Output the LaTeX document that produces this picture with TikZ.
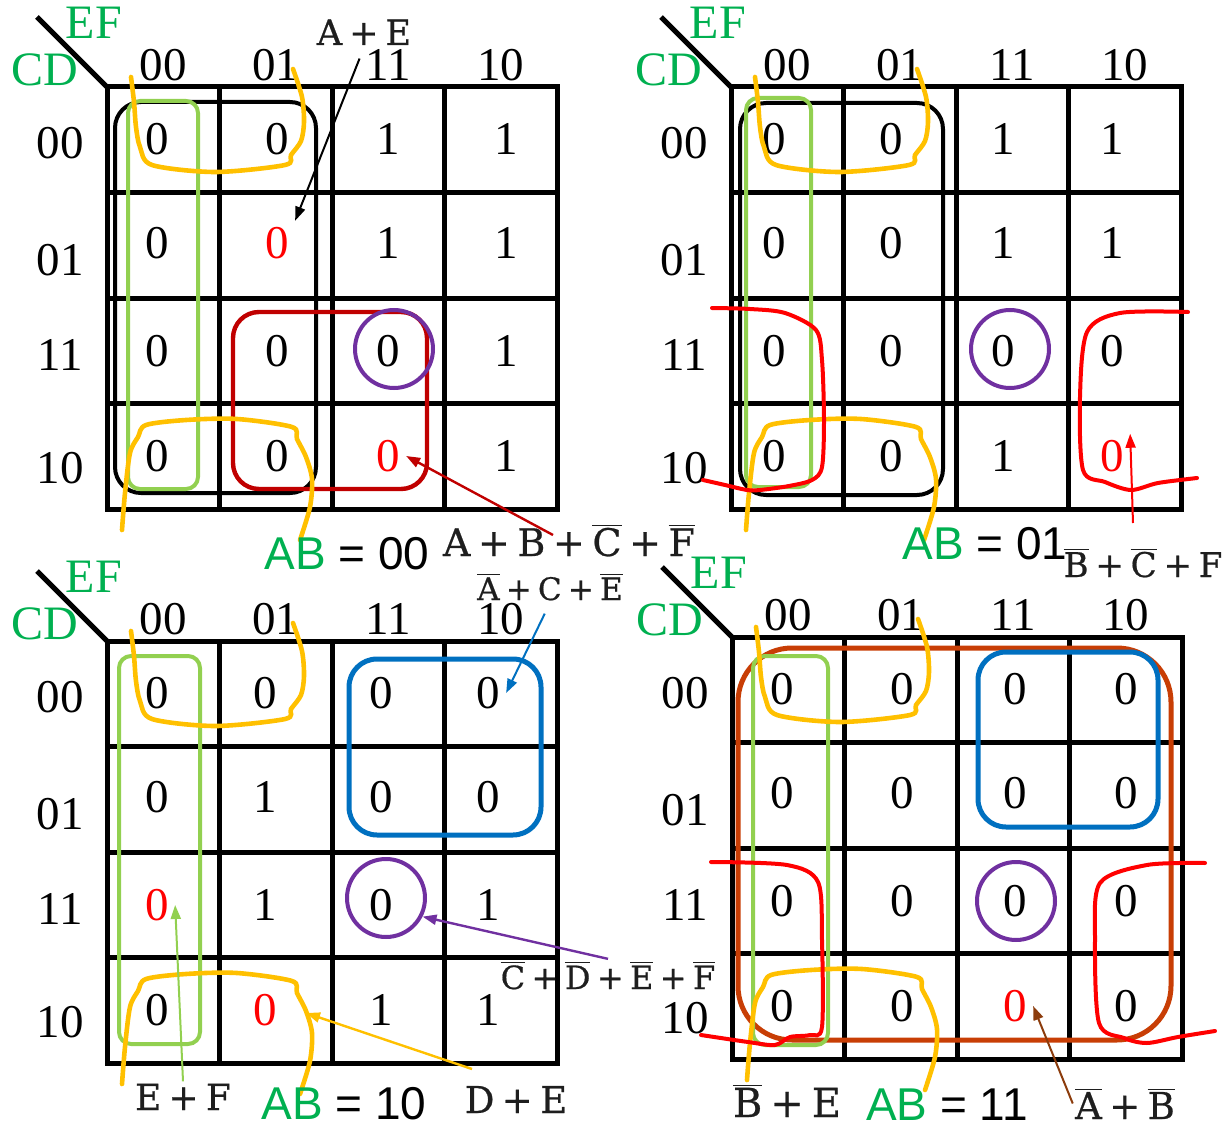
\documentclass[tikz,border=0pt]{standalone}
\usepackage{fontspec}
\setmainfont{Liberation Serif}
\newfontfamily\labsans{Liberation Sans}
\newfontfamily\eqfont[FakeBold=0.6]{DejaVu Serif}
\usetikzlibrary{arrows.meta,calc}
\definecolor{kgreen}{RGB}{0,176,80}
\definecolor{lgreen}{RGB}{146,208,80}
\definecolor{korange}{RGB}{255,192,0}
\definecolor{dred}{RGB}{192,0,0}
\definecolor{kpurple}{RGB}{112,48,160}
\definecolor{kblue}{RGB}{0,112,192}
\definecolor{kred}{RGB}{255,0,0}
\definecolor{kbrown}{RGB}{200,62,5}
\definecolor{karrbrown}{RGB}{140,60,12}
\definecolor{eqgray}{RGB}{30,30,30}
\newcommand{\ov}[1]{$\overline{\mbox{#1}}$}
\newcommand{\pls}{\hspace{0.2em}+\hspace{0.2em}}
\newcommand{\rz}{\textcolor{kred}{0}}
\tikzset{
  grid/.style={line width=2.5pt, line cap=rect},
  diag/.style={line width=2.5pt},
  val/.style={font=\fontsize{23.5}{24}\selectfont, inner sep=3pt},
  hdr/.style={font=\fontsize{23.5}{24}\selectfont, inner sep=0pt},
  axis/.style={font=\fontsize{24}{24}\selectfont, text=kgreen, inner sep=0pt},
  blkloop/.style={draw=black, line width=2pt, rounded corners=13pt},
  grnloop/.style={draw=lgreen, line width=2pt, rounded corners=6pt},
  drloop/.style={draw=dred, line width=2.2pt, rounded corners=13pt},
  blueloop/.style={draw=kblue, line width=2.5pt, rounded corners=14pt},
  brnloop/.style={draw=kbrown, line width=2.5pt, rounded corners=27pt},
  pc/.style={circle, draw=kpurple, line width=2pt, minimum size=39pt, inner sep=0pt},
  orng/.style={draw=korange, line width=2.3pt, line cap=round},
  redc/.style={draw=kred, line width=2pt, line cap=round},
  eq/.style={font=\eqfont\fontsize{#1}{#1}\selectfont, text=eqgray, anchor=base, inner sep=1pt},
  abl/.style={font=\labsans\fontsize{23}{24}\selectfont, anchor=base, inner sep=0pt},
  arr/.style={line width=1pt, -{Triangle[length=7pt,width=5pt]}},
}
\newcommand{\kmap}[6]{%
  \draw[grid] (0,0) rectangle (450,422);
  \foreach \i in {1,2,3}{%
    \draw[grid] ({\i*112.5},0) -- ({\i*112.5},422);
    \draw[grid] (0,{\i*105.5}) -- (450,{\i*105.5});
  }
  \draw[diag] (-70,-70) -- (0,0);
  \node[axis] (#1ef) at (-13,-64) {EF};
  \node[axis] (#1cd) at (-62,-17) {CD};
  \foreach \t/\yy [count=\c] in {00/56,01/173,11/268,10/381}{%
    \node[hdr] (#1h\c) at ({56+112.5*(\c-1)},-22) {\t};
    \node[hdr] (#1r\c) at (-47,\yy) {\t};
  }
  \foreach \vals [count=\r] in {{#3},{#4},{#5},{#6}}{%
    \foreach \v [count=\c] in \vals {%
      \pgfmathsetmacro{\xx}{{#2}[\c-1]}%
      \pgfmathsetmacro{\yy}{{52,156,264,369}[\r-1]}%
      \node[val] (#1-\r-\c) at (\xx,\yy) {\v};
    }
  }
}
\newcommand{\orangetop}{%
  \draw[orng] plot[smooth, tension=0.5] coordinates {(24,-10) (27,15) (29,40) (33,60) (45,78) (108,85) (178,78) (184,68) (194,54) (197,35) (195,10) (186,-18)};
}
\newcommand{\orangebot}{%
  \draw[orng] plot[smooth, tension=0.5] coordinates {(15,443) (18,406) (23,366) (31,350) (39,338) (79,333) (130,332) (185,340) (190,352) (199,370) (205,392) (203,420) (193,453)};
}
\begin{document}
\begin{tikzpicture}[x=0.5pt,y=-0.5pt]
\useasboundingbox (0,0) rectangle (1227,1129);
% ---------- Map 1: AB = 00
\begin{scope}[shift={(107,87)}]
  \kmap{m1}{50,170,281,399}{0,0,1,1}{0,\rz,1,1}{0,0,0,1}{0,0,\rz,1}
  \draw[blkloop] (8,15) rectangle (209,406);
  \draw[grnloop] (21,14) rectangle (91,402);
  \draw[drloop] (126,225) rectangle (320,402);
  \node[pc] (m1c) at (287,262) {};
  \orangetop
  \orangebot
\end{scope}
% ---------- Map 2: AB = 01
\begin{scope}[shift={(731,87)}]
  \kmap{m2}{43,160,272,381}{0,0,1,1}{0,0,1,1}{0,0,0,0}{0,0,1,\rz}
  \draw[blkloop] (9,16) rectangle (212,408);
  \draw[grnloop] (15,11) rectangle (80,400);
  \node[pc] (m2c) at (279,262) {};
  \orangetop
  \orangebot
  \draw[redc] plot[smooth, tension=0.5] coordinates {(-19,221) (19,222) (54,226) (85,243) (91,273) (93,333) (91,380) (81,393) (58,399) (29,403) (16,403) (-6,398) (-28,393)};
  \draw[redc] plot[smooth, tension=0.5] coordinates {(457,225) (389,226) (356,245) (349,310) (352,383) (374,395) (400,403) (427,396) (466,391)};
\end{scope}
% ---------- Map 3: AB = 10
\begin{scope}[shift={(107,641)}]
  \kmap{m3}{50,158,274,381}{0,0,0,0}{0,1,0,0}{\rz,1,0,1}{0,\rz,1,1}
  \draw[grnloop] (12,15) rectangle (93,403);
  \draw[blueloop] (242,18) rectangle (434,194);
  \node[pc] (m3c) at (279,257) {};
  \orangetop
  \orangebot
\end{scope}
% ---------- Map 4: AB = 11
\begin{scope}[shift={(732,637)}]
  \kmap{m4}{50,170,283,394}{0,0,0,0}{0,0,0,0}{0,0,0,0}{0,0,\rz,0}
  \draw[brnloop] (6,11) rectangle (439,403);
  \draw[grnloop] (21,19) rectangle (96,408);
  \draw[blueloop] (246,15) rectangle (426,190);
  \node[pc] (m4c) at (284,264) {};
  \orangetop
  \orangebot
  \draw[redc] plot[smooth, tension=0.5] coordinates {(-21,225) (55,228) (86,245) (90,303) (90,390) (78,398) (58,400) (43,408) (16,405) (-31,398)};
  \draw[redc] plot[smooth, tension=0.5] coordinates {(473,226) (415,228) (368,246) (363,303) (367,386) (392,401) (415,406) (446,400) (483,394)};
\end{scope}
% ---------- labels
\node[abl] (ab1) at (347,569) {\textcolor{kgreen}{AB} = 00};
\node[abl] (ab2) at (985,559) {\textcolor{kgreen}{AB} = 01};
\node[abl] (ab3) at (344,1119) {\textcolor{kgreen}{AB} = 10};
\node[abl] (ab4) at (947,1120) {\textcolor{kgreen}{AB} = 11};
\node[eq=17.5] (lAE) at (364,45) {A\pls E};
\node[eq=19] (lABCF) at (569,556) {A\pls B\pls\ov{C}\pls\ov{F}};
\node[eq=15.5] (lACE) at (550,600) {\ov{A}\pls C\pls\ov{E}};
\node[eq=17] (lBCF) at (1143,577) {\ov{B}\pls\ov{C}\pls F};
\node[eq=16] (lCDEF) at (608,989) {\ov{C}\pls\ov{D}\pls\ov{E}\pls\ov{F}};
\node[eq=18] (lEF) at (183,1110) {E\pls F};
\node[eq=18.5] (lDE) at (516,1113) {D\pls E};
\node[eq=20] (lBE) at (787,1117) {\ov{B}\pls E};
\node[eq=18.5] (lAB) at (1125,1119) {\ov{A}\pls\ov{B}};
% ---------- arrows
\coordinate (drs) at (553,535);
\coordinate (rs) at (1133,523);
\coordinate (os) at (472,1069);
\coordinate (oe) at (306,1013);
\draw[arr, shorten <=6pt] (lAE.south) -- (m1-2-2.north east);
\draw[arr, dred, line width=1.2pt] (drs) -- (m1-4-3.east);
\draw[arr, kred] (rs) -- (m2-4-4.north east);
\draw[arr, kblue, shorten <=6pt] (lACE.south) -- (m3-1-4.east);
\draw[arr, kpurple, line width=1.2pt] (lCDEF.north) -- (m3c.-27);
\draw[arr, lgreen] (lEF.north) -- (m3-3-1.east);
\draw[arr, korange, line width=1.2pt] (os) -- (oe);
\draw[arr, karrbrown] (lAB.west) -- (m4-4-3.east);
\end{tikzpicture}
\end{document}
